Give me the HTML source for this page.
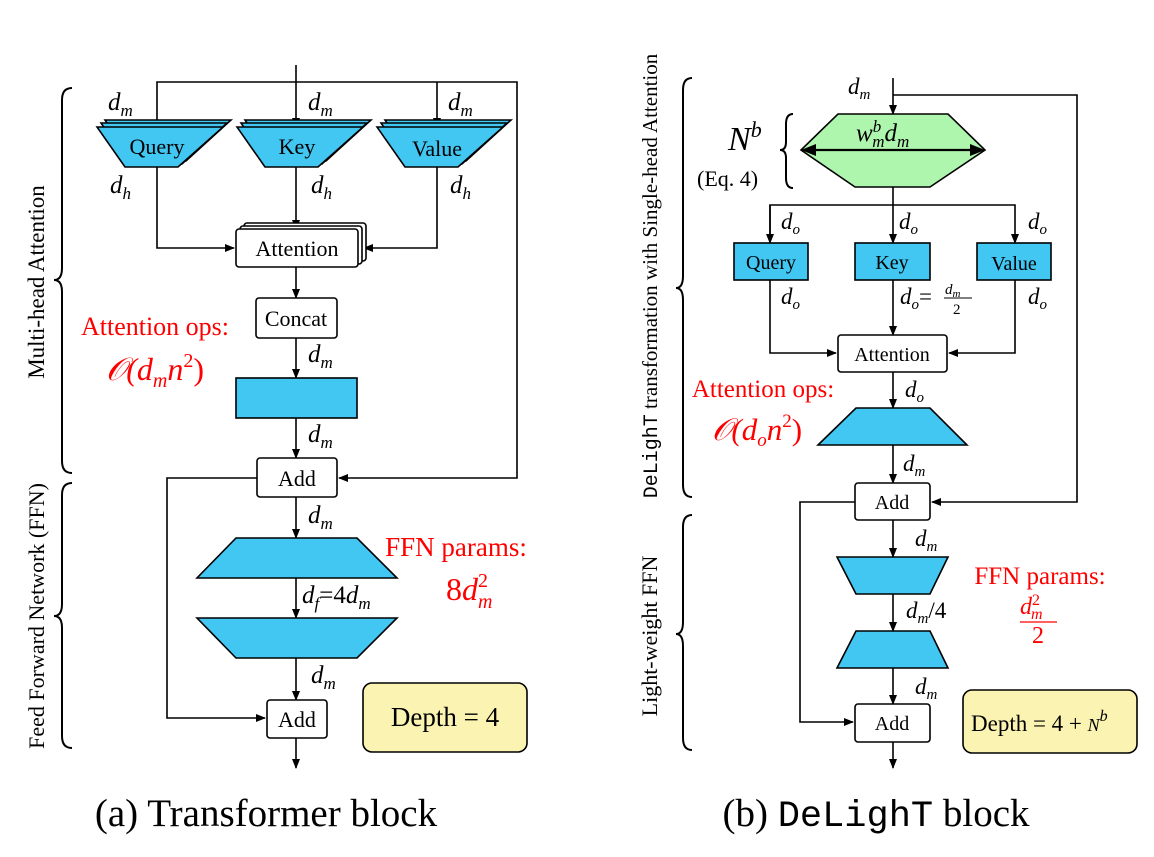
<!DOCTYPE html>
<html><head><meta charset="utf-8"><style>
html,body{margin:0;padding:0;background:#fff;}
svg{display:block;}
text{font-family:"Liberation Serif",serif;fill:#000;}
.m{font-style:italic;font-size:25px;}
.s{font-size:17px;}
.l{font-size:22px;}
.r{fill:#ff0000;}
</style></head><body>
<svg width="1154" height="857" viewBox="0 0 1154 857" xmlns="http://www.w3.org/2000/svg">
<defs>
<marker id="a" markerWidth="10" markerHeight="10" refX="9" refY="5" orient="auto" markerUnits="userSpaceOnUse">
<path d="M0,1 L10,5 L0,9 z" fill="#000"/></marker>
</defs>
<g stroke="#000" stroke-width="1.6" fill="none">
<line x1="296" y1="65" x2="296" y2="127" marker-end="url(#a)"/>
<polyline points="157,127 157,82 517,82 517,478 339,478" marker-end="url(#a)"/>
<line x1="437" y1="82" x2="437" y2="127" marker-end="url(#a)"/>
</g>
<g stroke="#000" stroke-width="1.6" fill="#42c6f2">
<polygon points="105,120 231,120 186,161 133,161"/>
<polygon points="101,123 227,123 182,164 129,164"/>
<polygon points="97,127 223,127 178,167 125,167"/>
<polygon points="245,120 371,120 326,161 273,161"/>
<polygon points="241,123 367,123 322,164 269,164"/>
<polygon points="237,127 363,127 318,167 265,167"/>
<polygon points="385,120 511,120 466,161 413,161"/>
<polygon points="381,123 507,123 462,164 409,164"/>
<polygon points="377,127 503,127 458,167 405,167"/>
</g>
<text x="157" y="154" text-anchor="middle" class="l">Query</text>
<text x="297" y="154" text-anchor="middle" class="l">Key</text>
<text x="437" y="156" text-anchor="middle" class="l">Value</text>
<g stroke="#000" stroke-width="1.6" fill="none">
<polyline points="157,167 157,248 234,248" marker-end="url(#a)"/>
<polyline points="437,167 437,248 364,248" marker-end="url(#a)"/>
<line x1="296" y1="167" x2="296" y2="229" marker-end="url(#a)"/>
</g>
<g stroke="#000" stroke-width="1.6" fill="#fff">
<rect x="244" y="223" width="122" height="38" rx="3"/>
<rect x="240" y="226" width="122" height="38" rx="3"/>
<rect x="236" y="229" width="122" height="38" rx="3"/>
</g>
<text x="297" y="256" text-anchor="middle" class="l">Attention</text>
<g stroke="#000" stroke-width="1.6" fill="none">
<line x1="296" y1="267" x2="296" y2="298" marker-end="url(#a)"/>
<line x1="296" y1="338" x2="296" y2="378" marker-end="url(#a)"/>
<line x1="296" y1="418" x2="296" y2="458" marker-end="url(#a)"/>
<line x1="296" y1="497" x2="296" y2="538" marker-end="url(#a)"/>
<line x1="296" y1="578" x2="296" y2="618" marker-end="url(#a)"/>
<line x1="296" y1="658" x2="296" y2="700" marker-end="url(#a)"/>
<line x1="296" y1="738" x2="296" y2="768" marker-end="url(#a)"/>
<polyline points="257,478 167,478 167,718 265,718" marker-end="url(#a)"/>
</g>
<rect x="256" y="298" width="81" height="40" rx="3" fill="#fff" stroke="#000" stroke-width="1.6"/>
<text x="296" y="326" text-anchor="middle" class="l">Concat</text>
<rect x="236" y="378" width="121" height="40" fill="#42c6f2" stroke="#000" stroke-width="1.6"/>
<rect x="257" y="458" width="80" height="39" rx="3" fill="#fff" stroke="#000" stroke-width="1.6"/>
<text x="297" y="486" text-anchor="middle" class="l">Add</text>
<polygon points="236,538 357,538 397,578 197,578" fill="#42c6f2" stroke="#000" stroke-width="1.6"/>
<polygon points="197,618 397,618 357,658 236,658" fill="#42c6f2" stroke="#000" stroke-width="1.6"/>
<rect x="267" y="700" width="60" height="38" rx="3" fill="#fff" stroke="#000" stroke-width="1.6"/>
<text x="297" y="727" text-anchor="middle" class="l">Add</text>
<rect x="363" y="683" width="164" height="69" rx="9" fill="#fbf3b2" stroke="#000" stroke-width="1.6"/>
<text x="445" y="726" text-anchor="middle" font-size="27">Depth = 4</text>
<text x="108" y="110" class="m">d<tspan dy="6" class="s">m</tspan></text>
<text x="308" y="110" class="m">d<tspan dy="6" class="s">m</tspan></text>
<text x="448" y="110" class="m">d<tspan dy="6" class="s">m</tspan></text>
<text x="110" y="193" class="m">d<tspan dy="6" class="s">h</tspan></text>
<text x="311" y="193" class="m">d<tspan dy="6" class="s">h</tspan></text>
<text x="450" y="193" class="m">d<tspan dy="6" class="s">h</tspan></text>
<text x="308" y="362" class="m">d<tspan dy="6" class="s">m</tspan></text>
<text x="308" y="442" class="m">d<tspan dy="6" class="s">m</tspan></text>
<text x="308" y="523" class="m">d<tspan dy="6" class="s">m</tspan></text>
<text x="302" y="603" class="m">d<tspan dy="6" class="s">f</tspan><tspan dy="-6" font-style="normal">=4</tspan>d<tspan dy="6" class="s">m</tspan></text>
<text x="311" y="683" class="m">d<tspan dy="6" class="s">m</tspan></text>
<text x="155" y="335" text-anchor="middle" class="r" font-size="26">Attention ops:</text>
<text x="155" y="380" text-anchor="middle" class="r" font-size="32" font-style="italic">𝒪(d<tspan dy="7" font-size="20">m</tspan><tspan dy="-7">n</tspan><tspan dy="-13" font-size="20" font-style="normal">2</tspan><tspan dy="13" font-style="normal">)</tspan></text>
<text x="456" y="556" text-anchor="middle" class="r" font-size="27">FFN params:</text>
<text x="446" y="600" class="r" font-size="32">8<tspan font-style="italic">d</tspan><tspan dy="-13" font-size="20">2</tspan><tspan dx="-10" dy="21" font-size="20" font-style="italic">m</tspan></text>
<g stroke="#000" stroke-width="2" fill="none">
<path d="M72,88 Q62,88 62,100 L62,268 Q62,280 54,280 Q62,280 62,292 L62,461 Q62,473 72,473"/>
<path d="M72,483 Q62,483 62,495 L62,604 Q62,616 54,616 Q62,616 62,628 L62,736 Q62,748 72,748"/>
</g>
<text transform="translate(44,282) rotate(-90)" text-anchor="middle" font-size="23">Multi-head Attention</text>
<text transform="translate(44,616) rotate(-90)" text-anchor="middle" font-size="22">Feed Forward Network (FFN)</text>
<text x="266" y="826" text-anchor="middle" font-size="39">(a) Transformer block</text>

<!-- RIGHT -->
<g stroke="#000" stroke-width="1.6" fill="none">
<line x1="893" y1="78" x2="893" y2="114" marker-end="url(#a)"/>
<polyline points="893,95 1077,95 1077,502 932,502" marker-end="url(#a)"/>
</g>
<text x="848" y="94" font-size="23" font-style="italic">d<tspan dy="5" font-size="15">m</tspan></text>
<polygon points="838,114 948,114 985,150 930,187 855,187 801,150" fill="#aef5ae" stroke="#000" stroke-width="1.6"/>
<line x1="812" y1="150" x2="974" y2="150" stroke="#000" stroke-width="2.2"/>
<path d="M801,150 L816,144 L816,156 z M985,150 L970,144 L970,156 z" fill="#000"/>
<text x="856" y="141" class="m">w<tspan dy="-9" class="s">b</tspan><tspan dx="-9" dy="15" class="s">m</tspan><tspan dy="-6">d</tspan><tspan dy="6" class="s">m</tspan></text>
<text x="728" y="150" font-size="34" font-style="italic">N<tspan dy="-13" font-size="22">b</tspan></text>
<text x="697" y="186" font-size="22">(Eq. 4)</text>
<path d="M793,114 Q786,114 786,124 L786,142 Q786,150 780,150 Q786,150 786,158 L786,178 Q786,188 793,188" stroke="#000" stroke-width="2" fill="none"/>
<g stroke="#000" stroke-width="1.6" fill="none">
<line x1="893" y1="187" x2="893" y2="243" marker-end="url(#a)"/>
<polyline points="770,243 770,205 1015,205 1015,243" marker-end="url(#a)"/>
<line x1="770" y1="205" x2="770" y2="243" marker-end="url(#a)"/>
<polyline points="770,280 770,353 836,353" marker-end="url(#a)"/>
<polyline points="1015,280 1015,353 949,353" marker-end="url(#a)"/>
<line x1="893" y1="280" x2="893" y2="335" marker-end="url(#a)"/>
<line x1="893" y1="372" x2="893" y2="408" marker-end="url(#a)"/>
<line x1="893" y1="445" x2="893" y2="483" marker-end="url(#a)"/>
<line x1="893" y1="520" x2="893" y2="557" marker-end="url(#a)"/>
<line x1="893" y1="594" x2="893" y2="631" marker-end="url(#a)"/>
<line x1="893" y1="668" x2="893" y2="704" marker-end="url(#a)"/>
<line x1="893" y1="742" x2="893" y2="768" marker-end="url(#a)"/>
<polyline points="855,502 800,502 800,722 853,722" marker-end="url(#a)"/>
</g>
<g stroke="#000" stroke-width="1.6" fill="#42c6f2">
<rect x="734" y="243" width="74" height="37"/>
<rect x="855" y="243" width="75" height="37"/>
<rect x="977" y="243" width="74" height="37"/>
<polygon points="856,408 930,408 967,445 818,445"/>
<polygon points="837,557 948,557 930,594 856,594"/>
<polygon points="856,631 930,631 948,668 837,668"/>
</g>
<text x="771" y="269" text-anchor="middle" font-size="20">Query</text>
<text x="892" y="269" text-anchor="middle" font-size="20">Key</text>
<text x="1014" y="270" text-anchor="middle" font-size="20">Value</text>
<g stroke="#000" stroke-width="1.6" fill="#fff">
<rect x="838" y="335" width="109" height="37" rx="3"/>
<rect x="855" y="483" width="75" height="37" rx="3"/>
<rect x="855" y="704" width="75" height="38" rx="3"/>
</g>
<text x="892" y="361" text-anchor="middle" font-size="20">Attention</text>
<text x="892" y="509" text-anchor="middle" font-size="20">Add</text>
<text x="892" y="730" text-anchor="middle" font-size="20">Add</text>
<rect x="963" y="690" width="174" height="63" rx="9" fill="#fbf3b2" stroke="#000" stroke-width="1.6"/>
<text x="971" y="731" font-size="23">Depth = 4 + <tspan font-style="italic" font-size="18">N</tspan><tspan dy="-10" font-size="16" font-style="italic">b</tspan></text>
<g>
<text x="781" y="229" font-size="23" font-style="italic">d<tspan dy="5" font-size="15">o</tspan></text>
<text x="899" y="229" font-size="23" font-style="italic">d<tspan dy="5" font-size="15">o</tspan></text>
<text x="1028" y="229" font-size="23" font-style="italic">d<tspan dy="5" font-size="15">o</tspan></text>
<text x="781" y="304" font-size="23" font-style="italic">d<tspan dy="5" font-size="15">o</tspan></text>
<text x="1028" y="304" font-size="23" font-style="italic">d<tspan dy="5" font-size="15">o</tspan></text>
<text x="900" y="304" font-size="23" font-style="italic">d<tspan dy="5" font-size="15">o</tspan><tspan dy="-5" font-style="normal">=</tspan></text>
<text x="945" y="294" font-size="15" font-style="italic">d<tspan dy="3" font-size="11">m</tspan></text>
<line x1="944" y1="298" x2="972" y2="298" stroke="#000" stroke-width="1"/>
<text x="953" y="314" font-size="15">2</text>
<text x="905" y="397" font-size="23" font-style="italic">d<tspan dy="5" font-size="15">o</tspan></text>
<text x="903" y="471" font-size="23" font-style="italic">d<tspan dy="5" font-size="15">m</tspan></text>
<text x="915" y="546" font-size="23" font-style="italic">d<tspan dy="5" font-size="15">m</tspan></text>
<text x="906" y="618" font-size="23" font-style="italic">d<tspan dy="5" font-size="15">m</tspan><tspan dy="-5" font-style="normal">/4</tspan></text>
<text x="915" y="694" font-size="23" font-style="italic">d<tspan dy="5" font-size="15">m</tspan></text>
</g>
<text x="763" y="397" text-anchor="middle" class="r" font-size="25">Attention ops:</text>
<text x="757" y="440" text-anchor="middle" class="r" font-size="31" font-style="italic">𝒪(d<tspan dy="6" font-size="19">o</tspan><tspan dy="-6">n</tspan><tspan dy="-13" font-size="19" font-style="normal">2</tspan><tspan dy="13" font-style="normal">)</tspan></text>
<text x="1040" y="584" text-anchor="middle" class="r" font-size="25">FFN params:</text>
<text x="1020" y="614" class="r" font-size="24" font-style="italic">d<tspan dy="-9" font-size="16" font-style="normal">2</tspan><tspan dx="-9" dy="14" font-size="16">m</tspan></text>
<line x1="1020" y1="622" x2="1057" y2="622" stroke="#ff0000" stroke-width="1.3"/>
<text x="1038" y="643" text-anchor="middle" class="r" font-size="24">2</text>
<g stroke="#000" stroke-width="2" fill="none">
<path d="M692,78 Q683,78 683,90 L683,276 Q683,288 676,288 Q683,288 683,300 L683,485 Q683,497 692,497"/>
<path d="M692,515 Q683,515 683,527 L683,622 Q683,634 676,634 Q683,634 683,646 L683,738 Q683,750 692,750"/>
</g>
<text transform="translate(657,276) rotate(-90)" text-anchor="middle" font-size="21"><tspan font-family="Liberation Mono, monospace" font-size="20">DeLighT</tspan> transformation with Single-head Attention</text>
<text transform="translate(657,636) rotate(-90)" text-anchor="middle" font-size="22">Light-weight FFN</text>
<text x="876" y="826" text-anchor="middle" font-size="39">(b) <tspan font-family="Liberation Mono, monospace" font-size="37">DeLighT</tspan> block</text>
</svg>
</body></html>
